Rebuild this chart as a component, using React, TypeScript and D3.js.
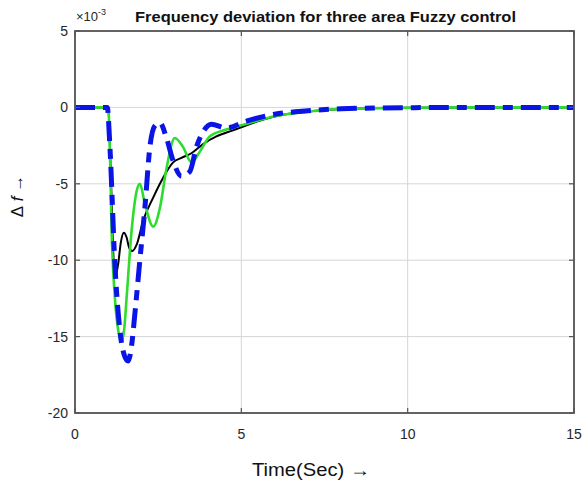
import React from "react";
import * as d3 from "d3";

const xTicks = [0, 5, 10, 15];
const yTicks = [5, 0, -5, -10, -15, -20];

const blackT = [0, 1.0, 1.05, 1.1, 1.15, 1.22, 1.3, 1.38, 1.47, 1.55, 1.63, 1.72, 1.85, 2.05, 2.35, 2.65, 2.95, 3.2, 3.5, 3.85, 4.25, 4.75, 5.3, 6, 7, 8, 10, 12, 15];
const blackV = [0, 0, -2.5, -6, -9.5, -11.0, -10.2, -8.8, -8.2, -8.5, -9.2, -9.4, -9.0, -7.4, -5.9, -4.6, -3.6, -3.3, -3.0, -2.4, -1.9, -1.5, -1.05, -0.6, -0.27, -0.1, -0.02, 0, 0];

const greenT = [0, 1.0, 1.05, 1.1, 1.2, 1.3, 1.4, 1.48, 1.55, 1.7, 1.85, 1.95, 2.1, 2.35, 2.55, 2.75, 3.0, 3.25, 3.5, 3.75, 4.05, 4.55, 5.2, 6, 7, 8, 10, 12, 15];
const greenV = [0, 0, -3, -8, -12.5, -14.6, -15.3, -14.5, -12.5, -8.1, -5.5, -5.0, -6.3, -7.8, -6.6, -4.0, -2.0, -2.6, -3.6, -2.9, -1.9, -1.45, -1.05, -0.58, -0.27, -0.1, -0.02, 0, 0];

const blueT = [0, 0.97, 1.05, 1.2, 1.35, 1.48, 1.6, 1.7, 1.8, 1.95, 2.1, 2.25, 2.4, 2.55, 2.75, 2.95, 3.2, 3.45, 3.65, 3.85, 4.1, 4.55, 5.15, 6, 7, 8, 10, 12, 15];
const blueV = [0, 0, -2.6, -10.3, -14.6, -16.2, -16.6, -15.6, -13.5, -10, -6.6, -2.6, -1.2, -1.0, -2.0, -3.5, -4.5, -4.2, -2.6, -1.6, -1.1, -1.35, -0.9, -0.45, -0.22, -0.09, -0.02, 0, 0];

const W = 584;
const H = 485;
const L = 75, R = 574, T = 31, B = 413;

export default function App() {
  const x = d3.scaleLinear().domain([0, 15]).range([L, R]);
  const y = d3.scaleLinear().domain([-20, 5]).range([B, T]);
  const mk = (ts: number[], vs: number[]) =>
    d3
      .line<number>()
      .x((_, i) => x(ts[i]))
      .y((v) => y(v))
      .curve(d3.curveMonotoneX)(vs) || "";

  const font = "'Liberation Sans', Arial, sans-serif";
  const tickColor = "#262626";

  return (
    <svg
      width={W}
      height={H}
      style={{ position: "absolute", left: 0, top: 0, background: "#fff" }}
    >
      <rect x={0} y={0} width={W} height={H} fill="#fff" />
      {xTicks.map((t) => (
        <line key={"gx" + t} x1={x(t)} x2={x(t)} y1={T} y2={B} stroke="#d6d6d6" strokeWidth={1} />
      ))}
      {yTicks.map((t) => (
        <line key={"gy" + t} x1={L} x2={R} y1={y(t)} y2={y(t)} stroke="#d6d6d6" strokeWidth={1} />
      ))}
      <defs>
        <clipPath id="clip">
          <rect x={L} y={T} width={R - L} height={B - T} />
        </clipPath>
      </defs>
      <g clipPath="url(#clip)">
        <path d={mk(blackT, blackV)} fill="none" stroke="#000" strokeWidth={2} />
        <path d={mk(greenT, greenV)} fill="none" stroke="#2ddc2d" strokeWidth={2.6} />
        <path
          d={mk(blueT, blueV)}
          fill="none"
          stroke="#0a14e6"
          strokeWidth={5}
          strokeDasharray="20 8 10 8"
        />
      </g>
      <rect x={L} y={T} width={R - L} height={B - T} fill="none" stroke="#555" strokeWidth={1.8} />
      {xTicks.map((t) => (
        <g key={"tx" + t}>
          <line x1={x(t)} x2={x(t)} y1={B} y2={B - 5} stroke="#555" strokeWidth={1.2} />
          <line x1={x(t)} x2={x(t)} y1={T} y2={T + 5} stroke="#555" strokeWidth={1.2} />
          <text x={x(t)} y={439} textAnchor="middle" fontFamily={font} fontSize={14} fill={tickColor}>
            {t}
          </text>
        </g>
      ))}
      {yTicks.map((t) => (
        <g key={"ty" + t}>
          <line x1={L} x2={L + 5} y1={y(t)} y2={y(t)} stroke="#555" strokeWidth={1.2} />
          <line x1={R} x2={R - 5} y1={y(t)} y2={y(t)} stroke="#555" strokeWidth={1.2} />
          <text x={68} y={y(t) + 5} textAnchor="end" fontFamily={font} fontSize={14} fill={tickColor}>
            {t}
          </text>
        </g>
      ))}
      <text x={76} y={21} fontFamily={font} fontSize={13} fill={tickColor}>
        ×10
        <tspan dy={-6} fontSize={9}>-3</tspan>
      </text>
      <text
        x={135}
        y={22}
        textLength={381}
        lengthAdjust="spacingAndGlyphs"
        fontFamily={font}
        fontWeight="bold"
        fontSize={14.5}
        fill="#111"
      >
        Frequency deviation for three area Fuzzy control
      </text>
      <text
        x={252}
        y={476}
        textLength={118}
        lengthAdjust="spacingAndGlyphs"
        fontFamily="'Liberation Sans Narrow', 'Liberation Sans', sans-serif"
        fontSize={18}
        fill="#111"
      >
        Time(Sec)  →
      </text>
      <text
        transform="translate(23,196) rotate(-90)"
        textAnchor="middle"
        fontFamily={font}
        fontSize={17}
        fill="#111"
      >
        Δ<tspan fontStyle="italic"> f</tspan> →
      </text>
    </svg>
  );
}
